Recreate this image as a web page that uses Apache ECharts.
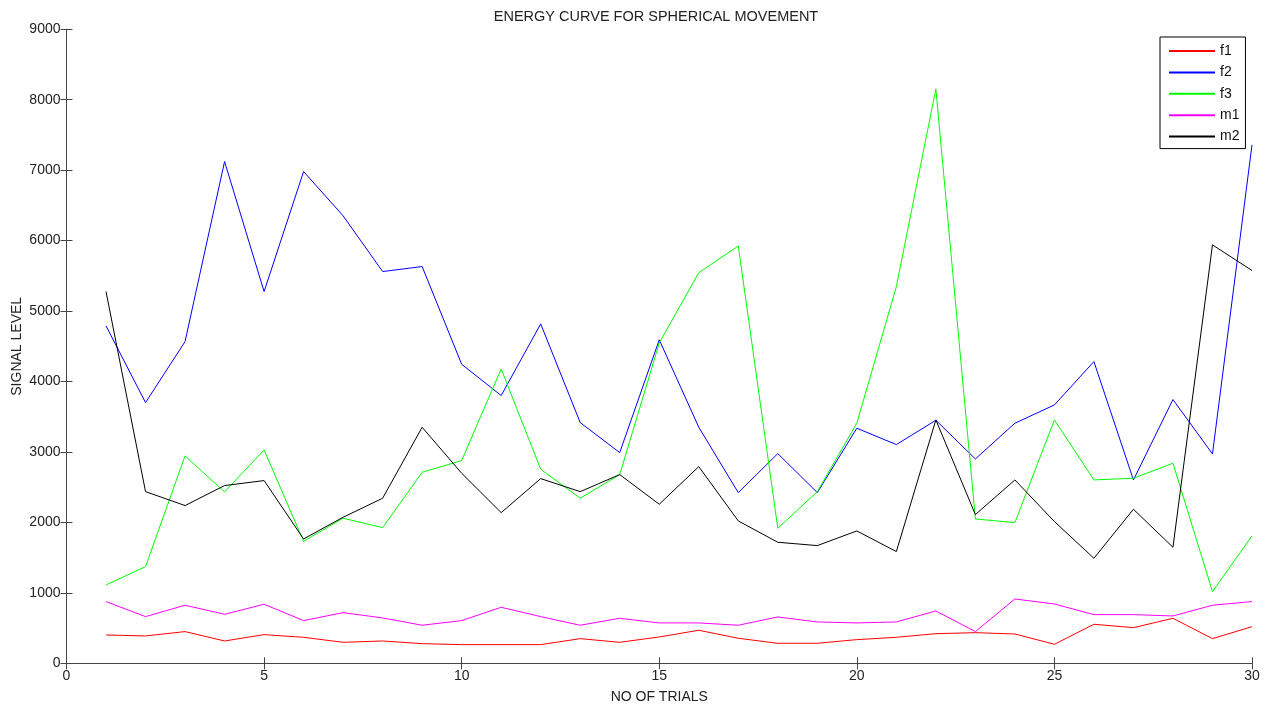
<!DOCTYPE html>
<html>
<head>
<meta charset="utf-8">
<script src="https://cdn.jsdelivr.net/npm/echarts@6/dist/echarts.min.js"></script>
<style>
  html, body { margin: 0; padding: 0; background: #fff; }
  #main { width: 1272px; height: 710px; }
</style>
</head>
<body>
<div id="main"></div>
<script>
// trials on the x axis
var trials = [1, 2, 3, 4, 5, 6, 7, 8, 9, 10, 11, 12, 13, 14, 15,
              16, 17, 18, 19, 20, 21, 22, 23, 24, 25, 26, 27, 28, 29, 30];

// signal levels
var f1 = [402, 388, 450, 317, 407, 369, 298, 317, 279, 265, 265, 265, 350, 298, 374,
          469, 355, 284, 284, 336, 369, 421, 435, 416, 270, 554, 506, 639, 350, 520];
var f2 = [4790, 3701, 4567, 7123, 5277, 6981, 6352, 5561, 5632, 4245, 3801, 4818, 3417, 2991, 4592,
          3351, 2423, 2977, 2423, 3337, 3105, 3450, 2901, 3408, 3668, 4283, 2603, 3744, 2972, 7360];
var f3 = [1112, 1373, 2944, 2433, 3029, 1732, 2059, 1926, 2712, 2878, 4179, 2755, 2343, 2679, 4547,
          5545, 5924, 1917, 2437, 3408, 5347, 8153, 2049, 1997, 3455, 2603, 2627, 2840, 1018, 1808];
var m1 = [876, 663, 824, 696, 838, 606, 719, 644, 540, 606, 795, 663, 540, 639, 573,
          573, 540, 658, 587, 573, 587, 743, 450, 913, 842, 691, 691, 672, 824, 876];
var m2 = [5277, 2437, 2239, 2523, 2594, 1765, 2073, 2343, 3351, 2698, 2139, 2622, 2437, 2679, 2258,
          2792, 2021, 1718, 1671, 1879, 1586, 3455, 2111, 2603, 2012, 1491, 2187, 1647, 5940, 5576];

var seriesNames = ['f1', 'f2', 'f3', 'm1', 'm2'];
var seriesColors = ['#ff0000', '#0000ff', '#00ff00', '#ff00ff', '#000000'];
var seriesValues = [f1, f2, f3, m1, m2];

function pairs(vals) {
  return trials.map(function (t, i) { return [t, vals[i]]; });
}

var font = 'Liberation Sans, Arial, sans-serif';
var axisColor = '#444';
var textColor = '#222';

var myChart = echarts.init(document.getElementById('main'));

// ticks point into the plot, like the original
function ticks() {
  return { show: true, inside: true, length: 6, lineStyle: { color: axisColor } };
}
function plain(v) { return String(v); }

var option = {
  animation: false,
  backgroundColor: '#fff',
  title: {
    text: 'ENERGY CURVE FOR SPHERICAL MOVEMENT',
    left: 651,
    textAlign: 'center',
    top: 4,
    textStyle: { fontFamily: font, fontSize: 14.5, fontWeight: 'normal', color: textColor }
  },
  legend: {
    data: seriesNames,
    orient: 'vertical',
    left: 1160,
    top: 37,
    padding: [7, 6, 5, 8],
    itemWidth: 46,
    itemHeight: 14,
    itemGap: 7.4,
    borderColor: '#000',
    borderWidth: 1,
    backgroundColor: '#fff',
    itemStyle: { opacity: 0 },
    textStyle: { fontFamily: font, fontSize: 14, color: '#111' }
  },
  grid: { left: 66.5, right: 20, top: 29.3, bottom: 46.7, outerBoundsMode: 'none' },
  xAxis: [{
    type: 'value', min: 0, max: 30, interval: 5,
    name: 'NO OF TRIALS', nameLocation: 'middle', nameGap: 27, nameMoveOverlap: false,
    nameTextStyle: { fontFamily: font, fontSize: 14, color: textColor },
    axisLine: { show: true, lineStyle: { color: axisColor } },
    axisTick: ticks(),
    axisLabel: { fontFamily: font, fontSize: 14, color: textColor, margin: 6, formatter: plain },
    splitLine: { show: false }
  }, {
    type: 'value', min: 0, max: 30, interval: 5, position: 'top',
    axisLine: { show: true, lineStyle: { color: axisColor } },
    axisTick: ticks(),
    axisLabel: { show: false },
    splitLine: { show: false }
  }],
  yAxis: [{
    type: 'value', min: 0, max: 9000, interval: 1000,
    name: 'SIGNAL LEVEL', nameLocation: 'middle', nameGap: 42, nameMoveOverlap: false,
    nameTextStyle: { fontFamily: font, fontSize: 14, color: textColor },
    axisLine: { show: true, lineStyle: { color: axisColor } },
    axisTick: ticks(),
    axisLabel: { fontFamily: font, fontSize: 14, color: textColor, margin: 6, formatter: plain },
    splitLine: { show: false }
  }, {
    type: 'value', min: 0, max: 9000, interval: 1000, position: 'right',
    axisLine: { show: true, lineStyle: { color: axisColor } },
    axisTick: ticks(),
    axisLabel: { show: false },
    splitLine: { show: false }
  }],
  series: seriesNames.map(function (n, k) {
    return {
      name: n,
      type: 'line',
      data: pairs(seriesValues[k]),
      symbol: 'none',
      color: seriesColors[k],
      lineStyle: { width: 1, color: seriesColors[k] }
    };
  })
};

myChart.setOption(option);
</script>
</body>
</html>
